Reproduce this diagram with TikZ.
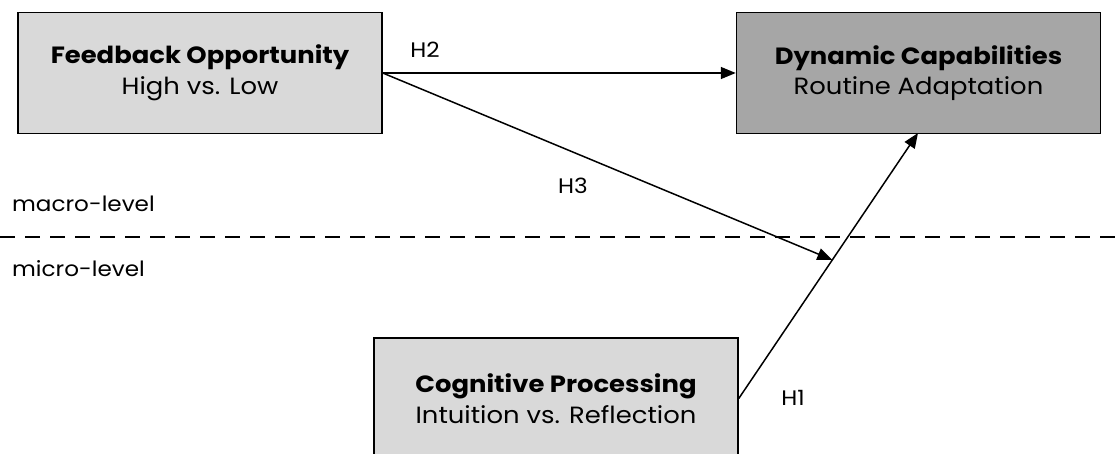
\documentclass[tikz,border=0pt]{standalone}
\usepackage{fontspec}
\setmainfont{Poppins}[FakeStretch=1.1]
\usetikzlibrary{arrows.meta,calc}
\definecolor{lightbox}{HTML}{D9D9D9}
\definecolor{darkbox}{HTML}{A6A6A6}
\begin{document}
\begin{tikzpicture}[x=1pt,y=-1pt,
  box/.style={draw=black, line width=1.5pt, minimum width=364pt, minimum height=121pt, align=center, font=\fontsize{23.5}{30.5}\selectfont, inner sep=0pt},
  conn/.style={line width=1.5pt, -{Triangle[length=15pt,width=12pt]}},
  lbl/.style={font=\fontsize{21}{25}\selectfont, inner sep=0pt}]
\useasboundingbox (0,0) rectangle (1115,454);
\node[box, fill=lightbox] (fb) at (200,73) {\textbf{Feedback Opportunity}\\High vs. Low};
\node[box, fill=darkbox] (dc) at (918.5,73) {\textbf{Dynamic Capabilities}\\Routine Adaptation};
\node[box, fill=lightbox] (cp) at (556,398.5) {\textbf{Cognitive Processing}\\Intuition vs. Reflection};
\coordinate (ds) at (0,237);
\coordinate (de) at (1115,237);
\draw[line width=1.5pt, dash pattern=on 15pt off 10pt] (ds) -- (de);
\coordinate (h1e) at (918,133);
\draw[conn] (cp.east) -- (h1e);
\coordinate (h3e) at ($(cp.east)!0.522!(h1e)$);
\draw[conn] (fb.east) -- (dc.west);
\draw[conn] (fb.east) -- (h3e);
\node[lbl] (h2) at (425,50) {H2};
\node[lbl] (h3) at (573,186) {H3};
\node[lbl] (h1) at (793,398) {H1};
\node[lbl, anchor=west] (mac) at (12,204) {macro-level};
\node[lbl, anchor=west] (mic) at (12,269) {micro-level};
\end{tikzpicture}
\end{document}
